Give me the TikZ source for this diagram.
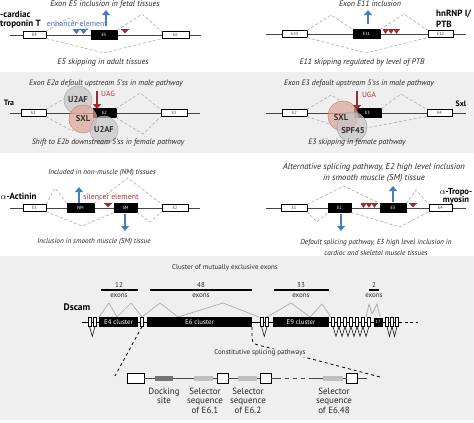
\documentclass[tikz,border=0pt]{standalone}
\usepackage{fontspec}
\setmainfont{PT Sans}
\usetikzlibrary{arrows.meta,calc}
\definecolor{panelgray}{HTML}{EFEFEF}
\definecolor{splicegray}{HTML}{ABABAB}
\definecolor{arrblue}{HTML}{4A7EBB}
\definecolor{txtblue}{HTML}{3D72C2}
\definecolor{darkred}{HTML}{9E2A2B}
\definecolor{txtred}{HTML}{B3302B}
\definecolor{linegray}{HTML}{454545}
\definecolor{sxlfill}{HTML}{DCA89A}
\definecolor{sxldraw}{HTML}{C07A6A}
\begin{document}
\begin{tikzpicture}[x=1pt,y=-1pt,
  exon/.style={draw=black, line width=0.5pt, fill=white, inner sep=0pt, outer sep=0pt, minimum height=7pt, font=\fontsize{4.5}{5}\selectfont, text=black!70},
  exonb/.style={exon, fill=black, text=white, minimum height=9pt},
  gline/.style={draw=linegray, line width=0.8pt},
  splice/.style={draw=splicegray, line width=0.6pt, dash pattern=on 3pt off 2pt},
  note/.style={font=\fontsize{7.8}{10.5}\selectfont\itshape, text=black!85, align=center, inner sep=0pt},
  gname/.style={font=\fontsize{9}{10}\selectfont\bfseries, inner sep=0pt, align=left},
  plain/.style={font=\fontsize{7}{8}\selectfont, inner sep=0pt, text=black!85},
  barrow/.style={draw=arrblue, line width=2.6pt, -{Triangle[length=5pt,width=8pt]}},
  rarrow/.style={draw=darkred, line width=2.6pt, -{Triangle[length=5pt,width=8pt]}},
  circU/.style={circle, draw=gray!75, fill=gray!45, fill opacity=0.72, text opacity=1, minimum size=28pt, inner sep=0pt, font=\fontsize{8.5}{9}\selectfont\bfseries, text=black!80},
  circS/.style={circU, draw=sxldraw, fill=sxlfill},
  sx/.style={draw=black, line width=0.5pt, fill=white, minimum width=3pt, minimum height=9pt, inner sep=0pt, outer sep=0pt},
  clus/.style={fill=black, inner sep=0pt, outer sep=0pt, minimum height=10pt, font=\fontsize{6.8}{7}\selectfont, text=white},
  vl/.style={draw=black, line width=0.5pt},
  arcl/.style={draw=gray!65, line width=0.7pt},
  cbar/.style={draw=black, line width=1.2pt},
  zdash/.style={draw=black, line width=0.8pt, dash pattern=on 3pt off 3pt},
  ilabel/.style={font=\fontsize{9}{9.3}\selectfont, align=center, anchor=north, inner sep=0pt, text=black!85},
  ibox/.style={draw=black, line width=0.6pt, fill=white, inner sep=0pt, outer sep=0pt, minimum width=11pt, minimum height=10pt},
  iseq/.style={inner sep=0pt, outer sep=0pt, minimum height=5pt, minimum width=19pt, fill=gray!50},
  redtri/.pic={\fill[darkred] (-4,-2) rectangle (4,-1); \fill[darkred] (-3.2,-1.2) -- (3.2,-1.2) -- (0,2.5) -- cycle;},
  redcomb/.pic={\fill[darkred] (-8.5,-2) rectangle (8.5,-1);
     \foreach \dx in {-5.5,0,5.5} \fill[darkred] ({\dx-2.8},-1.2) -- ({\dx+2.8},-1.2) -- (\dx,2.8) -- cycle;},
  bluecomb/.pic={\fill[arrblue] (-7.5,-2) rectangle (7.5,-1);
     \foreach \dx in {-3.6,3.6} \fill[arrblue] ({\dx-3.3},-1.2) -- ({\dx+3.3},-1.2) -- (\dx,3) -- cycle;}
]
\useasboundingbox (0,0) rectangle (474,423);
\fill[white] (0,0) rectangle (474,423);
\fill[panelgray] (0,72) rectangle (474,153);
\fill[panelgray] (0,256) rectangle (474,420);

%%%%% Panel A: cardiac troponin T
\node[gname, anchor=west] (tnTa) at (0,14) {-cardiac};
\node[gname, anchor=west] (tnTb) at (0,24.5) {troponin T};
\coordinate (A0) at (10,35); \coordinate (A1) at (201,35);
\draw[gline] (A0) -- (A1);
\node[exon, minimum width=23pt] (aE4) at (34.5,35) {E4};
\node[exonb, minimum width=26pt] (aE5) at (104,35) {E5};
\node[exon, minimum width=27pt] (aE6) at (175.5,35) {E6};
\coordinate (aP1) at (68,18); \coordinate (aP2) at (142,14); \coordinate (aP3) at (104,53);
\draw[splice] (aE4.north east) -- (aP1) -- (aE5.north west);
\draw[splice] (aE5.north east) -- (aP2) -- (aE6.north west);
\draw[splice] (aE4.south east) -- (aP3) -- (aE6.south west);
\pic at (80,31) {bluecomb};
\pic at (125,31) {redtri};
\node[plain, text=txtblue, font=\fontsize{7.8}{8}\selectfont] (aEnh) at (77,24) {enhancer element};
\coordinate (aU0) at (106,26); \coordinate (aU1) at (106,10);
\draw[barrow] (aU0) -- (aU1);
\node[note, font=\fontsize{8.2}{9}\selectfont\itshape] (aTop) at (105,4) {Exon E5 inclusion in fetal tissues};
\node[note, font=\fontsize{8.2}{9}\selectfont\itshape] (aBot) at (103,62) {E5 skipping in adult tissues};

%%%%% Panel B: hnRNP I/PTB
\node[gname, anchor=west] (hnA) at (436,14) {hnRNP I/};
\node[gname, anchor=west] (hnB) at (436,24.5) {PTB};
\coordinate (B0) at (266,34); \coordinate (B1) at (466,34);
\draw[gline] (B0) -- (B1);
\node[exon, minimum width=25pt] (bE10) at (294.5,34) {E10};
\node[exonb, minimum width=27pt] (bE11) at (366.5,34) {E11};
\node[exon, minimum width=25pt] (bE12) at (440.5,34) {E12};
\coordinate (bP1) at (331,15); \coordinate (bP2) at (404,14); \coordinate (bP3) at (366,53);
\draw[splice] (bE10.north east) -- (bP1) -- (bE11.north west);
\draw[splice] (bE11.north east) -- (bP2) -- (bE12.north west);
\draw[splice] (bE10.south east) -- (bP3) -- (bE12.south west);
\pic at (391,31) {redcomb};
\coordinate (bU0) at (368,24); \coordinate (bU1) at (368,10);
\draw[barrow] (bU0) -- (bU1);
\node[note, font=\fontsize{8}{9}\selectfont\itshape] (bTop) at (370,4) {Exon E11 inclusion};
\node[note, font=\fontsize{8}{9}\selectfont\itshape] (bBot) at (362,62) {E11 skipping regulated by level of PTB};

%%%%% Panel C: Tra
\node[note] (cTop) at (106,84) {Exon E2a default upstream 5'ss in male pathway};
\node[gname, font=\fontsize{7.8}{9}\selectfont\bfseries] (tra) at (9,103) {Tra};
\coordinate (C0) at (10,113); \coordinate (C1) at (200,113);
\draw[gline] (C0) -- (C1);
\node[exon, minimum width=25pt] (cE1) at (33.5,113) {E1};
\node[exonb, minimum width=23pt] (cE2) at (104.5,113) {E2};
\node[exon, minimum width=26pt] (cE3) at (174,113) {E3};
\coordinate (cP1) at (72,94); \coordinate (cP2) at (140,93);
\coordinate (cP3) at (72,131); \coordinate (cP4) at (143,134);
\draw[splice] (cE1.north east) -- (cP1) -- (cE2.north west);
\draw[splice] (cE2.north east) -- (cP2) -- (cE3.north west);
\draw[splice] (cE1.south east) -- (cP3) -- (cE2.south west);
\draw[splice] (cE2.south east) -- (cP4) -- (cE3.south west);
\node[circU] (u2a) at (78,100) {U2AF};
\node[circS] (sxlc) at (83,119) {SXL};
\node[circU] (u2b) at (104,130) {U2AF};
\coordinate (cR0) at (97,91); \coordinate (cR1) at (97,109);
\draw[rarrow] (cR0) -- (cR1);
\node[plain, text=txtred, font=\fontsize{7.5}{8}\selectfont] (uag) at (108,94) {UAG};
\node[note] (cBot) at (108,143) {Shift to E2b downstream 5'ss in female pathway};

%%%%% Panel D: Sxl
\node[note] (dTop) at (359,84) {Exon E3 default upstream 5'ss in male pathway};
\node[gname, font=\fontsize{7.8}{9}\selectfont\bfseries] (sxlname) at (461,104) {Sxl};
\coordinate (D0) at (266,113); \coordinate (D1) at (466,113);
\draw[gline] (D0) -- (D1);
\node[exon, minimum width=25pt] (dE2) at (294.5,113) {E2};
\node[exonb, minimum width=27pt] (dE3) at (367.5,113) {E3};
\node[exon, minimum width=25pt] (dE4) at (439.5,113) {E4};
\coordinate (dP1) at (331,95); \coordinate (dP2) at (401,94); \coordinate (dP3) at (350,131);
\draw[splice] (dE2.north east) -- (dP1) -- (dE3.north west);
\draw[splice] (dE3.north east) -- (dP2) -- (dE4.north west);
\draw[splice] (dE2.south east) -- (dP3) -- (dE4.south west);
\node[circS, minimum size=30pt] (sxld) at (343,116) {};
\node[circU, minimum size=30pt] (spf) at (352,127) {};
\node[plain, font=\fontsize{8.5}{9}\selectfont\bfseries, text=black!80] (sxlt) at (341,118) {SXL};
\node[plain, font=\fontsize{8.5}{9}\selectfont\bfseries, text=black!80] (spft) at (353,131) {SPF45};
\coordinate (dR0) at (357,91); \coordinate (dR1) at (357,110);
\draw[rarrow] (dR0) -- (dR1);
\node[plain, text=txtred, font=\fontsize{7.5}{8}\selectfont] (uga) at (369,95) {UGA};
\node[note] (dBot) at (357,143) {E3 skipping in female pathway};

%%%%% Panel E: alpha-Actinin
\node[note, font=\fontsize{7.3}{9}\selectfont\itshape] (eTop) at (102,173) {Included in non-muscle (NM) tissues};
\node[gname, anchor=west] (act) at (0.5,196) {$\alpha$-Actinin};
\coordinate (E0) at (10,208); \coordinate (E1) at (200,208);
\draw[gline] (E0) -- (E1);
\node[exon, minimum width=23pt] (eE1) at (34.5,208) {E1};
\node[exonb, minimum width=27pt] (eNM) at (80.5,208) {NM};
\node[exonb, minimum width=23pt] (eSM) at (125.5,208) {SM};
\node[exon, minimum width=26pt] (eE2) at (175,208) {E2};
\coordinate (eP1) at (55,188); \coordinate (eP2) at (128,178);
\coordinate (eP3) at (82,226); \coordinate (eP4) at (150,222);
\draw[splice] (eE1.north east) -- (eP1) -- (eNM.north west);
\draw[splice] (eNM.north east) -- (eP2) -- (eE2.north west);
\draw[splice] (eE1.south east) -- (eP3) -- (eSM.south west);
\draw[splice] (eSM.south east) -- (eP4) -- (eE2.south west);
\pic at (108,205) {redtri};
\node[plain, text=txtred, font=\fontsize{7.8}{8}\selectfont] (sil) at (111,197) {silencer element};
\coordinate (eU0) at (79,203); \coordinate (eU1) at (79,187);
\draw[barrow] (eU0) -- (eU1);
\coordinate (eD0) at (125,214); \coordinate (eD1) at (125,231);
\draw[barrow] (eD0) -- (eD1);
\node[note, font=\fontsize{7.2}{9}\selectfont\itshape] (eBot) at (94,242) {Inclusion in smooth muscle (SM) tissue};

%%%%% Panel F: alpha-Tropomyosin
\node[note, font=\fontsize{8.6}{11}\selectfont\itshape] (fTop) at (374,172.5) {Alternative splicing pathway, E2 high level inclusion\\in smooth muscle (SM) tissue};
\node[gname, align=center, font=\fontsize{8.6}{8.5}\selectfont\bfseries] (tropo) at (456,196.5) {$\alpha$-Tropo-\\myosin};
\coordinate (F0) at (266,208); \coordinate (F1) at (466,208);
\draw[gline] (F0) -- (F1);
\node[exon, minimum width=26pt] (fE1) at (294,208) {E1};
\node[exonb, minimum width=23pt] (fE2) at (339.5,208) {E2};
\node[exonb, minimum width=26pt] (fE3) at (393,208) {E3};
\node[exon, minimum width=23pt] (fE4) at (440.5,208) {E4};
\coordinate (fP1) at (344,186); \coordinate (fP2) at (416,190);
\coordinate (fP3) at (317,222); \coordinate (fP4) at (400,227);
\draw[splice] (fE1.north east) -- (fP1) -- (fE3.north west);
\draw[splice] (fE3.north east) -- (fP2) -- (fE4.north west);
\draw[splice] (fE1.south east) -- (fP3) -- (fE2.south west);
\draw[splice] (fE2.south east) -- (fP4) -- (fE4.south west);
\pic at (369,205) {redcomb};
\pic at (413,205) {redtri};
\coordinate (fU0) at (393,202); \coordinate (fU1) at (393,186);
\draw[barrow] (fU0) -- (fU1);
\coordinate (fD0) at (341,214); \coordinate (fD1) at (341,231);
\draw[barrow] (fD0) -- (fD1);
\node[note, font=\fontsize{7.3}{10.5}\selectfont\itshape] (fBot) at (376,247.5) {Default splicing pathway, E3 high level inclusion in\\cardiac and skeletal muscle tissues};

%%%%% Panel G: Dscam
\node[plain] (clu) at (225,268) {Cluster of mutually exclusive exons};
\coordinate (b1a) at (101,290); \coordinate (b1b) at (138,290);
\coordinate (b2a) at (150,290); \coordinate (b2b) at (252,290);
\coordinate (b3a) at (274,290); \coordinate (b3b) at (329,290);
\coordinate (b4a) at (369,290); \coordinate (b4b) at (379,290);
\draw[cbar] (b1a) -- (b1b); \draw[cbar] (b2a) -- (b2b);
\draw[cbar] (b3a) -- (b3b); \draw[cbar] (b4a) -- (b4b);
\node[plain] (n12) at (119,285) {12}; \node[plain] (x12) at (119,296) {exons};
\node[plain] (n48) at (201,285) {48}; \node[plain] (x48) at (201,296) {exons};
\node[plain] (n33) at (301,285) {33}; \node[plain] (x33) at (301,296) {exons};
\node[plain] (n2) at (374,285) {2}; \node[plain] (x2) at (374,296) {exons};
\node[gname, font=\fontsize{9.5}{10}\selectfont\bfseries] (dscam) at (77,307) {Dscam};

% gray upper splice arcs
\draw[arcl] (99,317) -- (109,303) -- (117,317) -- (131,303) -- (142,317) -- (160,303) -- (178,317) -- (223,303) -- (259,317);
\draw[arcl] (267,317) -- (291,303) -- (310,317) -- (322,304) -- (331,317);
\draw[arcl] (366,317) -- (369,304) -- (372,314) -- (377,304) -- (380,317);

\coordinate (G0) at (82,322); \coordinate (G1) at (399,322); \coordinate (G2) at (418,322);
\draw[vl, line width=0.8pt] (G0) -- (G1);
\draw[vl, line width=0.8pt, dash pattern=on 3pt off 2.5pt] (G1) -- (G2);
\node[sx] (s1) at (89.5,322) {};
\node[sx] (s2) at (95,322) {};
\node[clus, minimum width=39pt] (c4) at (118.5,322) {E4 cluster};
\node[sx] (s3) at (142,322) {};
\node[clus, minimum width=105pt] (c6) at (199.5,322) {E6 cluster};
\node[sx] (s4) at (261.5,322) {};
\node[sx] (s5) at (267,322) {};
\node[clus, minimum width=56pt] (c9) at (301,322) {E9 cluster};
\foreach \i/\x in {1/333,2/339,3/345,4/351,5/357,6/363,7/369}
  \node[sx] (q\i) at (\x,322) {};
\node[clus, minimum width=9pt, minimum height=9pt, font=\fontsize{4.5}{5}\selectfont] (q17) at (378,322) {17};
\node[sx] (r1) at (387,322) {};
\node[sx] (r2) at (392,322) {};
\node[sx] (r3) at (397,322) {};
% lower V joins
\draw[vl] (s1.south) -- ($(s1.south)!0.5!(s2.south)+(0,10)$) -- (s2.south);
\draw[vl] (s4.south) -- ($(s4.south)!0.5!(s5.south)+(0,10)$) -- (s5.south);
\foreach \i/\j in {1/2,2/3,3/4,4/5,5/6,6/7}
  \draw[vl] (q\i.south) -- ($(q\i.south)!0.5!(q\j.south)+(0,10)$) -- (q\j.south);
\draw[vl] (r1.south) -- ($(r1.south)!0.5!(r2.south)+(0,10)$) -- (r2.south);
\draw[vl] (r2.south) -- ($(r2.south)!0.5!(r3.south)+(0,10)$) -- (r3.south);

% zoom lines to inset
\coordinate (zl) at (115,376);
\coordinate (zr) at (380,377);
\coordinate (zm) at (252,338);
\coordinate (zn) at (266,347);
\draw[zdash] (s3.south) -- (zl);
\draw[zdash] (c6.south east) -- (zm) .. controls (253,344) .. (zn) -- (zr);
\node[plain, fill=panelgray, inner sep=1.2pt] (consti) at (260,353) {Constitutive splicing pathways};

% inset
\coordinate (iA) at (277,378); \coordinate (iB) at (313,378); \coordinate (iC) at (367,378);
\node[ibox, minimum width=17pt] (i0) at (135.5,378) {};
\node[ibox] (w1) at (222.5,378) {};
\node[ibox] (w2) at (265.5,378) {};
\node[ibox] (w3) at (352,378) {};
\draw[draw=linegray, line width=0.7pt] (i0.east) -- (w1.west);
\draw[draw=linegray, line width=0.7pt] (w1.east) -- (w2.west);
\draw[draw=linegray, line width=0.7pt] (w2.east) -- (iA);
\draw[draw=linegray, line width=0.8pt, dash pattern=on 4pt off 4pt] (iA) -- (iB);
\draw[draw=linegray, line width=0.7pt] (iB) -- (w3.west);
\draw[draw=linegray, line width=0.7pt] (w3.east) -- (iC);
\node[iseq, fill=gray!90!black, minimum width=18pt] (dock) at (164,378) {};
\node[iseq] (sq1) at (203.5,378) {};
\node[iseq] (sq2) at (247.5,378) {};
\node[iseq, minimum width=20pt] (sq3) at (333,378) {};
\node[ilabel] (lDock) at (164,388) {Docking\\site};
\node[ilabel] (lS1) at (205,388) {Selector\\sequence\\of E6.1};
\node[ilabel] (lS2) at (248,388) {Selector\\sequence\\of E6.2};
\node[ilabel] (lS3) at (334,388) {Selector\\sequence\\of E6.48};
\end{tikzpicture}
\end{document}
